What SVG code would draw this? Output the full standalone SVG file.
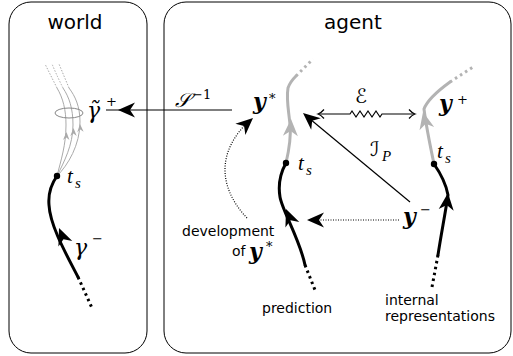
<svg xmlns="http://www.w3.org/2000/svg" xmlns:xlink="http://www.w3.org/1999/xlink" width="513" height="356" viewBox="0 0 513 356">
  <style>
    .frame { fill: none; stroke: #000; stroke-width: 1; }
    .title { font-family: "DejaVu Sans", sans-serif; font-size: 20px; fill: #000; }
    .lbl { font-family: "DejaVu Sans", sans-serif; font-size: 14px; fill: #000; }
    .mi { font-family: "Liberation Serif", "DejaVu Serif", serif; font-style: italic; font-size: 21px; fill: #000; }
    .gr { font-family: "DejaVu Serif", serif; font-style: italic; font-size: 22px; fill: #000; }
    .mb { font-family: "DejaVu Serif", serif; font-style: italic; font-weight: bold; font-size: 22px; fill: #000; }
    .sup { font-family: "DejaVu Serif", serif; font-size: 13px; fill: #000; }
    .sub { font-family: "Liberation Serif", "DejaVu Serif", serif; font-style: italic; font-size: 15px; fill: #000; }
    .cal { font-family: "DejaVu Serif", "DejaVu Sans", serif; font-style: italic; font-size: 20px; fill: #000; }
    .trajB { fill: none; stroke: #000; stroke-width: 3; stroke-linecap: round; }
    .trajBd { fill: none; stroke: #000; stroke-width: 3; stroke-dasharray: 2.5 3.5; }
    .trajG { fill: none; stroke: #b3b3b3; stroke-width: 3; stroke-linecap: round; }
    .trajGd { fill: none; stroke: #b3b3b3; stroke-width: 3; stroke-dasharray: 2.5 3.5; }
    .thinG { fill: none; stroke: #aaa; stroke-width: 1; }
    .thinGd { fill: none; stroke: #aaa; stroke-width: 1; stroke-dasharray: 1.5 1.5; }
    .conn { fill: none; stroke: #000; stroke-width: 1.2; }
    .connd { fill: none; stroke: #000; stroke-width: 1.2; stroke-dasharray: 1 1.5; }
  </style>
  <defs>
    <!-- stealth arrowhead, tip at origin, pointing along +x -->
    <path id="stealth" d="M0,0 L-17,-7.5 L-12,0 L-17,7.5 Z"/>
    <path id="stealthS" d="M0,0 L-8,-3.2 L-5.5,0 L-8,3.2 Z"/>
  </defs>

  <!-- panels -->
  <g id="world">
    <rect class="frame" x="9" y="2" width="138" height="351" rx="22" ry="22"/>
    <text class="title" x="75" y="29" text-anchor="middle">world</text>
  </g>
  <g id="agent">
    <rect class="frame" x="164" y="2" width="347" height="351" rx="22" ry="22"/>
    <text class="title" x="353" y="29" text-anchor="middle">agent</text>
  </g>

  <!-- world trajectory: past (black) and possible futures (grey) -->
  <g id="world-trajectory">
    <path class="thinG" d="M57,176 C61,160 66,145 66,125 C66,110 63,98 57,88"/>
    <path class="thinGd" d="M57,88 Q51,76 45,64"/>
    <path class="thinG" d="M57,176 C64,162 73,145 73,125 C73,108 69,97 63,88"/>
    <path class="thinGd" d="M63,88 Q57,76 52,64"/>
    <path class="thinG" d="M57,176 C68,165 80,145 80,122 C80,106 75,96 69,88"/>
    <path class="thinGd" d="M69,88 Q64,76 59,64"/>
    <use xlink:href="#stealthS" fill="#aaa" transform="translate(66.5,132) rotate(-88)"/>
    <use xlink:href="#stealthS" fill="#aaa" transform="translate(73.5,128) rotate(-90)"/>
    <use xlink:href="#stealthS" fill="#aaa" transform="translate(80,124) rotate(-93)"/>
    <ellipse cx="69" cy="113" rx="14" ry="5" fill="none" stroke="#888" stroke-width="1"/>
    <path class="trajB" d="M78,277 C65,252 50,225 49,205 C48,193 52,183 57,176"/>
    <path class="trajBd" d="M78,277 L92,308"/>
    <use xlink:href="#stealth" transform="translate(59,228) rotate(-112)"/>
    <circle cx="57" cy="176" r="3.2" fill="#000"/>
    <text class="mi" x="67" y="183">t</text>
    <text class="sub" x="75" y="188">s</text>
    <text class="gr" x="74" y="255">γ</text>
    <text class="sup" x="92" y="243">−</text>
    <text class="gr" x="87" y="118">γ̃</text>
    <text class="sup" x="106" y="106" font-size="15">+</text>
  </g>

  <!-- agent: prediction trajectory -->
  <g id="prediction">
    <path class="trajG" d="M286,163 C289,150 291,135 290,125 C289,112 286,100 288,88 C290,82 293,79 296,76"/>
    <path class="trajGd" d="M296,76 L313,59"/>
    <use xlink:href="#stealth" fill="#b3b3b3" transform="translate(291,119) rotate(-88)"/>
    <path class="trajB" d="M286,163 C281,172 278,185 280,197 C282,210 300,240 305,265"/>
    <path class="trajBd" d="M305,265 L315,290"/>
    <use xlink:href="#stealth" transform="translate(286,209) rotate(-112)"/>
    <circle cx="286" cy="163" r="3.2" fill="#000"/>
    <text class="mi" x="298" y="170">t</text>
    <text class="sub" x="306" y="175">s</text>
    <text class="mb" x="253" y="109">y</text>
    <text class="sup" x="269" y="103" font-size="15">*</text>
    <text class="lbl" x="262" y="313">prediction</text>
  </g>

  <!-- agent: internal representation trajectory -->
  <g id="internal">
    <path class="trajG" d="M434,164 C430,145 426,125 424,109 Q428,98 450,82"/>
    <path class="trajGd" d="M450,82 L473,67"/>
    <use xlink:href="#stealth" fill="#b3b3b3" transform="translate(423,112) rotate(-103)"/>
    <path class="trajB" d="M434,164 C441,174 446,184 448,195 C445,215 441,235 438,255"/>
    <path class="trajBd" d="M438,255 L432,287"/>
    <use xlink:href="#stealth" transform="translate(448,193) rotate(-84)"/>
    <circle cx="434" cy="164" r="3.2" fill="#000"/>
    <text class="mi" x="437" y="158">t</text>
    <text class="sub" x="445" y="163">s</text>
    <text class="mb" x="439" y="111">y</text>
    <text class="sup" x="457" y="104" font-size="15">+</text>
    <text class="mb" x="403" y="224">y</text>
    <text class="sup" x="420" y="214" font-size="15">−</text>
    <text class="lbl" x="385" y="305">internal</text>
    <text class="lbl" x="385" y="321">representations</text>
  </g>

  <!-- connectors -->
  <g id="connectors">
    <!-- S^-1: agent prediction to world -->
    <path class="conn" d="M232,110 L106,110"/>
    <use xlink:href="#stealth" transform="translate(118,110) rotate(180)"/>
    <text class="cal" x="175" y="107">𝒮</text>
    <text class="sup" x="192" y="99">−1</text>

    <!-- E: error between y* and y+ -->
    <path class="conn" d="M319,114 L350,114 L352,111 L356,117 L360,111 L364,117 L368,111 L372,117 L376,111 L380,117 L382,114 L414,114"/>
    <path class="conn" d="M324,109.5 Q321,113 318,114 Q321,115 324,118.5"/>
    <path class="conn" d="M409,109.5 Q412,113 415,114 Q412,115 409,118.5"/>
    <text class="cal" x="355" y="103">ℰ</text>

    <!-- I_P: from y- to prediction -->
    <path class="conn" d="M410,202 L310,119"/>
    <use xlink:href="#stealth" transform="translate(303,113) rotate(-140)"/>
    <text class="cal" x="370" y="156">ℐ</text>
    <text class="sub" x="382" y="161">P</text>

    <!-- y- feeds the prediction -->
    <path class="connd" d="M399,220 L318,220"/>
    <use xlink:href="#stealth" transform="translate(307,220) rotate(180)"/>

    <!-- development of y* -->
    <path class="connd" d="M247,218 C225,195 212,160 245,125"/>
    <use xlink:href="#stealth" transform="translate(253,118) rotate(-42)"/>
    <text class="lbl" x="182" y="236">development</text>
    <text class="lbl" x="232" y="256">of</text>
    <text class="mb" x="249" y="259">y</text>
    <text class="sup" x="266" y="251" font-size="15">*</text>
  </g>
</svg>
